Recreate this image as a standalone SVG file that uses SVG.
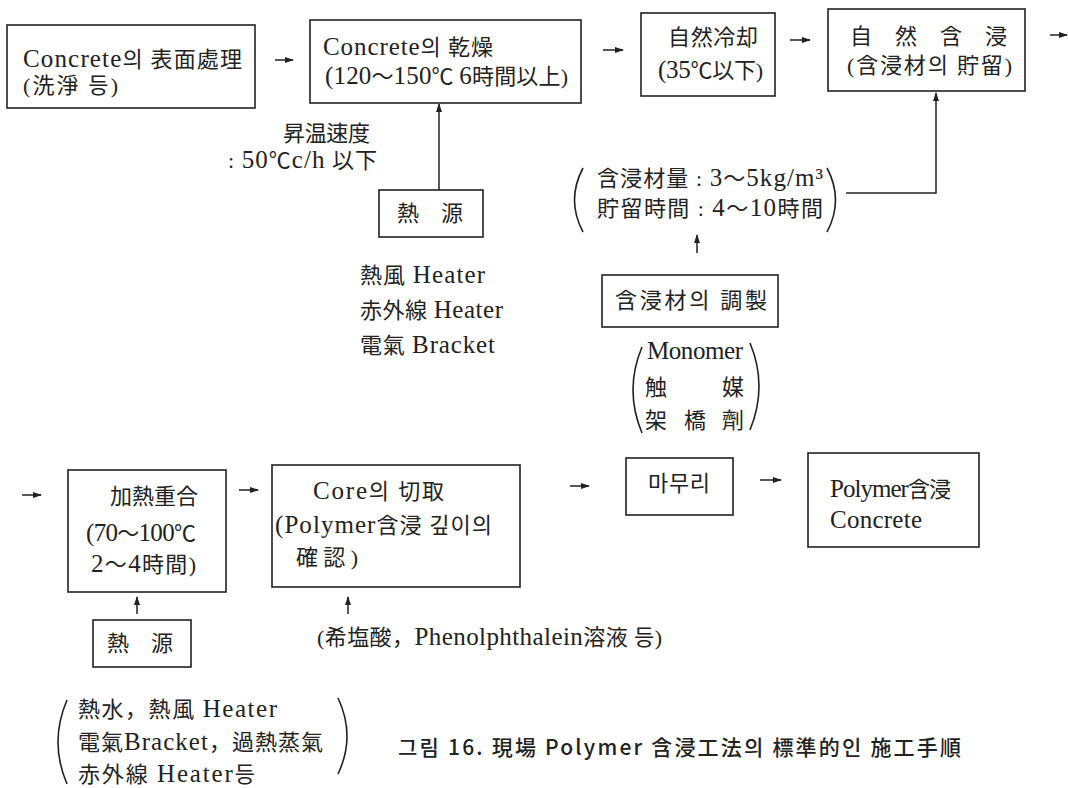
<svg xmlns="http://www.w3.org/2000/svg" width="1068" height="788" viewBox="0 0 1068 788">
<defs>
<marker id="ah" markerUnits="userSpaceOnUse" markerWidth="9" markerHeight="7" refX="8" refY="3.5" orient="auto">
<path d="M0,0.5 L9,3.5 L0,6.5 z" fill="#222"/>
</marker>
<style>
.box{fill:none;stroke:#222;stroke-width:1.6}
.t{font-family:"Liberation Serif","Noto Sans CJK KR",serif;font-size:22px;fill:#222}
.L{font-size:25px}
.c{fill:none;stroke:#222;stroke-width:1.5;marker-end:url(#ah)}
.p{fill:none;stroke:#222;stroke-width:1.6}
.cap{font-family:"Noto Sans CJK KR","Noto Sans",sans-serif;font-size:21px;font-weight:500;fill:#222}
</style>
</defs>
<rect width="1068" height="788" fill="#fff"/>

<g id="n1">
<rect class="box" x="7" y="25" width="248" height="83"/>
<text class="t" x="23" y="67" textLength="219"><tspan class="L">Concrete</tspan>의 表面處理</text>
<text class="t" x="23" y="93" textLength="95">(洗淨 등)</text>
</g>
<g id="n2">
<rect class="box" x="310" y="20" width="271" height="83"/>
<text class="t" x="323" y="55" textLength="170"><tspan class="L">Concrete</tspan>의 乾燥</text>
<text class="t" x="325" y="84" textLength="243"><tspan class="L">(120</tspan>～<tspan class="L">150</tspan>℃ <tspan class="L">6</tspan>時間以上)</text>
</g>
<g id="n3">
<rect class="box" x="641" y="13" width="134" height="83"/>
<text class="t" x="668" y="45" textLength="90">自然冷却</text>
<text class="t" x="658" y="78" textLength="105"><tspan class="L">(35</tspan>℃以下)</text>
</g>
<g id="n4">
<rect class="box" x="828" y="9" width="197" height="82"/>
<text class="t" x="850" y="44" textLength="157">自 然 含 浸</text>
<text class="t" x="847" y="73" textLength="165">(含浸材의 貯留)</text>
</g>
<g id="rate">
<text class="t" x="283" y="141" textLength="87">昇温速度</text>
<text class="t" x="228" y="168" textLength="149">: <tspan class="L">50</tspan>℃<tspan class="L">c/h</tspan> 以下</text>
</g>
<g id="heat1">
<rect class="box" x="379" y="190" width="104" height="47"/>
<text class="t" x="397" y="221" textLength="66">熱 源</text>
</g>
<g id="heat1list">
<text class="t" x="360" y="283" textLength="125">熱風 <tspan class="L">Heater</tspan></text>
<text class="t" x="360" y="318" textLength="143">赤外線 <tspan class="L">Heater</tspan></text>
<text class="t" x="360" y="353" textLength="135">電氣 <tspan class="L">Bracket</tspan></text>
</g>
<g id="amount">
<path class="p" d="M583,168 Q566,200 583,232"/>
<path class="p" d="M827,168 Q844,200 827,232"/>
<text class="t" x="597" y="186" textLength="226">含浸材量 : <tspan class="L">3</tspan>～<tspan class="L">5kg/m³</tspan></text>
<text class="t" x="597" y="216" textLength="226">貯留時間 : <tspan class="L">4</tspan>～<tspan class="L">10</tspan>時間</text>
</g>
<g id="prep">
<rect class="box" x="602" y="275" width="176" height="52"/>
<text class="t" x="615" y="308" textLength="152">含浸材의 調製</text>
</g>
<g id="mono">
<path class="p" d="M642,347 Q624,390 642,433"/>
<path class="p" d="M750,343 Q768,386 750,430"/>
<text class="t L" x="647" y="359" textLength="96">Monomer</text>
<text class="t" x="645" y="395">触</text>
<text class="t" x="722" y="395">媒</text>
<text class="t" x="645" y="428">架</text>
<text class="t" x="684" y="428">橋</text>
<text class="t" x="722" y="428">劑</text>
</g>

<g id="n5">
<rect class="box" x="68" y="470" width="158" height="122"/>
<text class="t" x="110" y="504" textLength="88">加熱重合</text>
<text class="t" x="86" y="541" textLength="110"><tspan class="L">(70</tspan>～<tspan class="L">100</tspan>℃</text>
<text class="t" x="91" y="572" textLength="105"><tspan class="L">2</tspan>～<tspan class="L">4</tspan>時間)</text>
</g>
<g id="n6">
<rect class="box" x="272" y="465" width="248" height="122"/>
<text class="t" x="313" y="499" textLength="131"><tspan class="L">Core</tspan>의 切取</text>
<text class="t" x="275" y="533" textLength="217"><tspan class="L">(Polymer</tspan>含浸 깊이의</text>
<text class="t" x="296" y="565" textLength="62">確認)</text>
</g>
<g id="n7">
<rect class="box" x="626" y="458" width="107" height="57"/>
<text class="t" x="648" y="491" textLength="62">마무리</text>
</g>
<g id="n8">
<rect class="box" x="808" y="453" width="171" height="94"/>
<text class="t" x="830" y="497" textLength="121"><tspan class="L">Polymer</tspan>含浸</text>
<text class="t L" x="830" y="528" textLength="92">Concrete</text>
</g>
<g id="heat2">
<rect class="box" x="93" y="620" width="98" height="47"/>
<text class="t" x="107" y="651" textLength="66">熱 源</text>
</g>
<g id="reagent">
<text class="t" x="317" y="645" textLength="345">(希塩酸，<tspan class="L">Phenolphthalein</tspan>溶液 등)</text>
</g>
<g id="heat2list">
<path class="p" d="M67,700 Q49,742 67,784"/>
<path class="p" d="M338,698 Q356,736 338,774"/>
<text class="t" x="78" y="717" textLength="199">熱水，熱風 <tspan class="L">Heater</tspan></text>
<text class="t" x="78" y="750" textLength="245">電氣<tspan class="L">Bracket</tspan>，過熱蒸氣</text>
<text class="t" x="78" y="782" textLength="177">赤外線 <tspan class="L">Heater</tspan>등</text>
</g>
<g id="caption">
<text class="cap" x="398" y="755" textLength="563">그림 16. 現場 Polymer 含浸工法의 標準的인 施工手順</text>
</g>

<g id="connectors">
<line class="c" x1="275" y1="60" x2="293" y2="60"/>
<line class="c" x1="603" y1="50" x2="623" y2="50"/>
<line class="c" x1="790" y1="40" x2="810" y2="40"/>
<line class="c" x1="1050" y1="35" x2="1067" y2="35"/>
<line class="c" x1="439" y1="190" x2="439" y2="104"/>
<polyline class="c" points="846,193 936,193 936,93"/>
<line class="c" x1="697" y1="253" x2="697" y2="235"/>
<line class="c" x1="22" y1="495" x2="41" y2="495"/>
<line class="c" x1="239" y1="490" x2="258" y2="490"/>
<line class="c" x1="570" y1="486" x2="589" y2="486"/>
<line class="c" x1="760" y1="480" x2="781" y2="480"/>
<line class="c" x1="137" y1="614" x2="137" y2="597"/>
<line class="c" x1="348" y1="614" x2="348" y2="597"/>
</g>
</svg>
